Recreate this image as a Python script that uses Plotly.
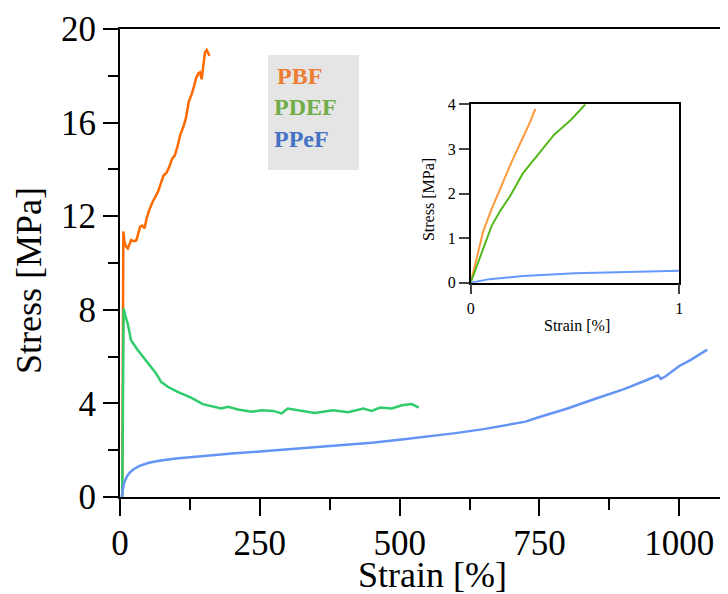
import plotly.graph_objects as go

# main curves: strain [%] / stress [MPa]
pbf_x = [4, 5, 6, 8, 11, 14, 17, 20, 25, 29, 32, 36, 40, 44, 47, 52, 58, 63, 68, 73, 78, 83, 88, 93,
         98, 103, 108, 113, 118, 123, 128, 133, 136, 140, 143, 146, 149, 152, 155, 158, 160]
pbf_y = [0, 4, 11.35, 10.9, 10.7, 10.62, 10.85, 10.98, 10.93, 10.96, 11.2, 11.55, 11.6, 11.48, 11.85,
         12.25, 12.6, 12.85, 13.05, 13.4, 13.75, 13.85, 14.1, 14.45, 14.6, 15.0, 15.5, 15.8, 16.2,
         16.9, 17.2, 17.6, 17.9, 18.1, 18.15, 17.85, 18.5, 19.0, 19.1, 18.95, 18.85]

pdef_x = [4, 5, 6.5, 9, 13.7, 19.7, 25, 31.6, 43.6, 55.6, 64.6, 73.5, 85.4, 103, 127, 148, 157, 170,
          181, 193, 211, 235, 253, 274, 289, 300, 324, 348, 381, 408, 435, 450, 465, 486, 504, 522, 534]
pdef_y = [0, 4, 8.05, 7.8, 7.42, 6.7, 6.5, 6.28, 5.92, 5.56, 5.28, 4.92, 4.71, 4.49, 4.25, 3.97, 3.92,
          3.85, 3.78, 3.85, 3.74, 3.64, 3.71, 3.68, 3.57, 3.78, 3.68, 3.59, 3.71, 3.62, 3.78, 3.68,
          3.82, 3.78, 3.92, 3.97, 3.82]

ppef_x = [3, 4, 5, 6.5, 8, 10, 12, 15, 18, 25, 35, 50, 70, 100, 150, 200, 250, 300, 350, 400, 450,
          500, 550, 600, 650, 700, 725, 750, 800, 850, 900, 940, 962, 967, 975, 1000, 1020, 1050]
ppef_y = [0, 0.22, 0.36, 0.52, 0.64, 0.76, 0.86, 0.97, 1.06, 1.2, 1.33, 1.45, 1.55, 1.65, 1.76, 1.86,
          1.94, 2.03, 2.12, 2.22, 2.32, 2.45, 2.58, 2.73, 2.9, 3.1, 3.22, 3.42, 3.78, 4.2, 4.6, 4.98,
          5.2, 5.05, 5.15, 5.6, 5.85, 6.3]

# inset (zoom on 0-1 % strain)
in_pbf_x = [0, 0.03, 0.06, 0.1, 0.15, 0.2, 0.25, 0.28, 0.31]
in_pbf_y = [0, 0.55, 1.15, 1.65, 2.2, 2.75, 3.25, 3.55, 3.9]
in_pdef_x = [0, 0.1, 0.14, 0.19, 0.25, 0.32, 0.4, 0.48, 0.55]
in_pdef_y = [0, 1.27, 1.6, 1.95, 2.45, 2.85, 3.32, 3.65, 4.0]
in_ppef_x = [0, 0.09, 0.25, 0.5, 0.75, 1.0]
in_ppef_y = [0, 0.08, 0.15, 0.21, 0.24, 0.27]

legend_names = ["PBF", "PDEF", "PPeF"]
legend_colors = ["#ED7D31", "#70AD47", "#4472C4"]

serif = "Liberation Serif"

fig = go.Figure()

fig.add_trace(go.Scatter(x=pbf_x, y=pbf_y, mode="lines", line=dict(color="#FF6A00", width=2.5)))
fig.add_trace(go.Scatter(x=pdef_x, y=pdef_y, mode="lines", line=dict(color="#2ECC6A", width=2.5)))
fig.add_trace(go.Scatter(x=ppef_x, y=ppef_y, mode="lines", line=dict(color="#6495F5", width=2.5)))

fig.add_trace(go.Scatter(x=in_pbf_x, y=in_pbf_y, mode="lines", xaxis="x2", yaxis="y2",
                         line=dict(color="#FF9A3C", width=2)))
fig.add_trace(go.Scatter(x=in_pdef_x, y=in_pdef_y, mode="lines", xaxis="x2", yaxis="y2",
                         line=dict(color="#55B81A", width=2)))
fig.add_trace(go.Scatter(x=in_ppef_x, y=in_ppef_y, mode="lines", xaxis="x2", yaxis="y2",
                         line=dict(color="#6699FF", width=2)))

ax_main = dict(showline=True, linewidth=2, linecolor="black", mirror=True, showgrid=False,
               zeroline=False, ticks="outside", tickwidth=2, tickcolor="black", automargin=False,
               tickfont=dict(family=serif, size=35, color="black"))

# page body has an 8px margin, so the figure is 720x586 and shifted accordingly
fig.update_layout(
    width=720, height=586,
    margin=dict(l=112, r=4, t=21, b=97),
    paper_bgcolor="white", plot_bgcolor="white",
    showlegend=False,
    xaxis=dict(ax_main, range=[0, 1080], tickvals=[0, 250, 500, 750, 1000], ticklen=17,
               ticklabelstandoff=-3,
               minor=dict(tickvals=[125, 375, 625, 875], ticklen=11, tickwidth=1.5, tickcolor="black")),
    yaxis=dict(ax_main, range=[0, 20], tickvals=[0, 4, 8, 12, 16, 20], ticklen=15,
               ticklabelstandoff=0,
               minor=dict(tickvals=[2, 6, 10, 14, 18], ticklen=10, tickwidth=1.5, tickcolor="black")),
    xaxis2=dict(domain=[0.5806, 0.926], anchor="y2", range=[0, 1], tickvals=[0, 1],
                showline=True, linewidth=1.5, linecolor="black", mirror=True, showgrid=False,
                zeroline=False, ticks="outside", ticklen=10, tickwidth=1.5, automargin=False,
                tickfont=dict(family=serif, size=16, color="black")),
    yaxis2=dict(domain=[0.4579, 0.8391], anchor="x2", range=[0, 4], tickvals=[0, 1, 2, 3, 4],
                showline=True, linewidth=1.5, linecolor="black", mirror=True, showgrid=False,
                zeroline=False, ticks="outside", ticklen=10, tickwidth=1.5, automargin=False,
                tickfont=dict(family=serif, size=16, color="black")),
)

# legend box
fig.add_shape(type="rect", xref="paper", yref="paper", x0=0.245, x1=0.3957, y0=0.6987, y1=0.9444,
              fillcolor="#E5E5E5", line=dict(width=0), layer="below")
for name, col, lx, ly in zip(legend_names, legend_colors, [0.2566, 0.2517, 0.2517],
                             [0.8996, 0.8323, 0.766]):
    fig.add_annotation(xref="paper", yref="paper", x=lx, y=ly, xanchor="left", yanchor="middle",
                       text="<b>" + name + "</b>", showarrow=False,
                       font=dict(family=serif, size=24, color=col))

# axis titles
fig.add_annotation(xref="paper", yref="paper", x=0.5166, y=-0.1667, text="Strain [%]",
                   showarrow=False, xanchor="center", yanchor="middle",
                   font=dict(family=serif, size=36, color="black"))
fig.add_annotation(xref="paper", yref="paper", x=-0.1507, y=0.4637, text="Stress [MPa]",
                   showarrow=False, xanchor="center", yanchor="middle", textangle=-90,
                   font=dict(family=serif, size=36, color="black"))
fig.add_annotation(xref="paper", yref="paper", x=0.7566, y=0.3675, text="Strain [%]",
                   showarrow=False, xanchor="center", yanchor="middle",
                   font=dict(family=serif, size=16, color="black"))
fig.add_annotation(xref="paper", yref="paper", x=0.51, y=0.6346, text="Stress [MPa]",
                   showarrow=False, xanchor="center", yanchor="middle", textangle=-90,
                   font=dict(family=serif, size=16, color="black"))

fig.write_html("out.html")
